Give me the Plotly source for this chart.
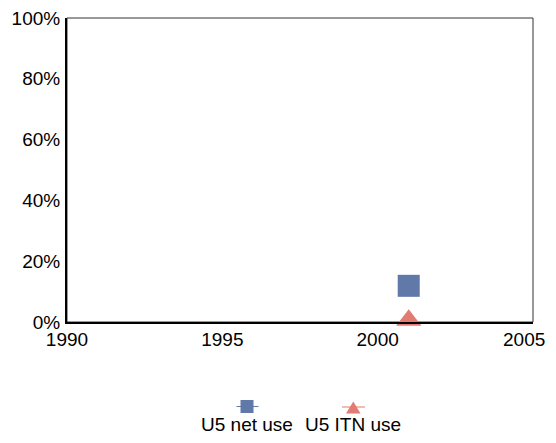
import plotly.graph_objects as go

years_net = [2001]
u5_net_use = [11.9]
years_itn = [2001]
u5_itn_use = [0.6]

x_ticks = [1990, 1995, 2000, 2005]
x_tick_labels = ["1990", "1995", "2000", "2005"]
y_ticks = [0, 20, 40, 60, 80, 100]
y_tick_labels = ["0%", "20%", "40%", "60%", "80%", "100%"]

BLUE = "#6079a9"
SALMON = "#e27b71"
FONT = "Liberation Sans, Arial, sans-serif"

OFF = 8  # default page body margin
W, H = 556 - OFF, 443 - 2 * OFF
L, R, T, B = 67 - OFF, 533 - OFF, 18 - OFF, 322 - OFF


def px_x(p):
    return (p - OFF - L) / (R - L)


def px_y(p):
    return (B - (p - OFF)) / (B - T)


fig = go.Figure()
fig.add_trace(go.Scatter(x=years_net, y=u5_net_use, mode="markers", name="U5 net use",
                         marker=dict(symbol="square", size=22, color=BLUE),
                         cliponaxis=False, showlegend=False))
fig.add_trace(go.Scatter(x=years_itn, y=u5_itn_use, mode="markers", name="U5 ITN use",
                         marker=dict(symbol="triangle-up", size=22, color=SALMON),
                         cliponaxis=False, showlegend=False))

shapes = [
    dict(type="rect", xref="paper", yref="paper", x0=0, x1=1, y0=0, y1=1,
         line=dict(color="#333333", width=1), layer="below"),
    # legend keys
    dict(type="line", xref="paper", yref="paper", x0=px_x(236.5), x1=px_x(258.5),
         y0=px_y(406.5), y1=px_y(406.5), line=dict(color=BLUE, width=1)),
    dict(type="rect", xref="paper", yref="paper", x0=px_x(240.5), x1=px_x(253.5),
         y0=px_y(413), y1=px_y(400), line=dict(width=0), fillcolor=BLUE),
    dict(type="line", xref="paper", yref="paper", x0=px_x(342), x1=px_x(365),
         y0=px_y(407), y1=px_y(407), line=dict(color=SALMON, width=1)),
    dict(type="path", xref="paper", yref="paper",
         path=f"M {px_x(346)} {px_y(413.5)} L {px_x(360.5)} {px_y(413.5)} L {px_x(353.3)} {px_y(401.5)} Z",
         line=dict(width=0), fillcolor=SALMON),
]

annotations = [
    dict(text="U5 net use", xref="paper", yref="paper", x=px_x(247), y=px_y(424),
         xanchor="center", yanchor="middle", showarrow=False,
         font=dict(family=FONT, size=19, color="#000")),
    dict(text="U5 ITN use", xref="paper", yref="paper", x=px_x(353), y=px_y(424),
         xanchor="center", yanchor="middle", showarrow=False,
         font=dict(family=FONT, size=19, color="#000")),
    # last x tick label, kept inside the visible page edge
    dict(text=x_tick_labels[-1], xref="x", yref="paper", x=x_ticks[-1], y=px_y(339),
         xanchor="right", yanchor="middle", xshift=14, showarrow=False,
         font=dict(family=FONT, size=19, color="#000")),
]

fig.update_layout(
    width=W, height=H,
    margin=dict(l=L, r=W - R, t=T, b=H - B, pad=0, autoexpand=False),
    paper_bgcolor="white", plot_bgcolor="white",
    font=dict(family=FONT, size=19, color="#000"),
    showlegend=False,
    shapes=shapes,
    annotations=annotations,
    xaxis=dict(range=[1990, 2005], tickvals=x_ticks[:-1], ticktext=x_tick_labels[:-1],
               showgrid=False, zeroline=False, showline=True, linecolor="#000", linewidth=2,
               ticks="", ticklabelstandoff=-1, ticklabeloverflow="allow",
               automargin=False, fixedrange=True),
    yaxis=dict(range=[0, 100], tickvals=y_ticks, ticktext=y_tick_labels,
               showgrid=False, zeroline=False, showline=True, linecolor="#000", linewidth=2,
               ticks="", ticklabelstandoff=1, ticklabeloverflow="allow",
               automargin=False, fixedrange=True),
)

fig.write_html("out.html")
